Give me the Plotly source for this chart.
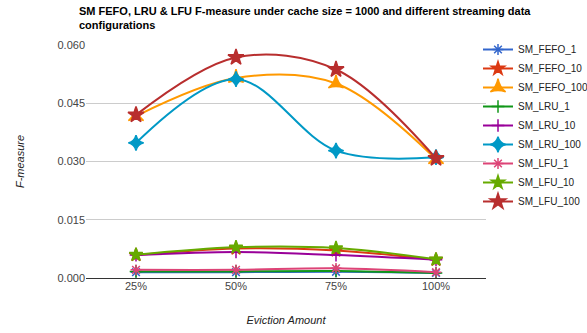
import plotly.graph_objects as go

categories = ["25%", "50%", "75%", "100%"]
series_names = ["SM_FEFO_1", "SM_FEFO_10", "SM_FEFO_100", "SM_LRU_1", "SM_LRU_10",
                "SM_LRU_100", "SM_LFU_1", "SM_LFU_10", "SM_LFU_100"]
SM_FEFO_1 = [0.0015, 0.0015, 0.0016, 0.0013]
SM_FEFO_10 = [0.0059, 0.0076, 0.0071, 0.0047]
SM_FEFO_100 = [0.0417, 0.0515, 0.0501, 0.0306]
SM_LRU_1 = [0.0017, 0.0017, 0.0018, 0.0013]
SM_LRU_10 = [0.0059, 0.0067, 0.0059, 0.0047]
SM_LRU_100 = [0.0348, 0.0512, 0.0328, 0.0311]
SM_LFU_1 = [0.0021, 0.0021, 0.0025, 0.0015]
SM_LFU_10 = [0.0060, 0.0079, 0.0077, 0.0048]
SM_LFU_100 = [0.0420, 0.0568, 0.0537, 0.0308]
values = [SM_FEFO_1, SM_FEFO_10, SM_FEFO_100, SM_LRU_1, SM_LRU_10,
          SM_LRU_100, SM_LFU_1, SM_LFU_10, SM_LFU_100]
y_ticks = [0.0, 0.015, 0.030, 0.045, 0.060]

colors = ["#3366cc", "#dc3912", "#ff9900", "#109618", "#990099",
          "#0099c6", "#dd4477", "#66aa00", "#b82e2e"]
symbols = ["asterisk-open", "star", "star-triangle-up", "cross-thin-open", "cross-thin-open",
           "star-diamond", "asterisk-open", "star", "star"]
sizes = [9, 10, 11, 9, 9, 11, 9, 10, 12]

fig = go.Figure()
for name, vals, c, s, sz in zip(series_names, values, colors, symbols, sizes):
    fig.add_trace(go.Scatter(
        x=categories, y=vals, name=name, mode="lines+markers",
        line=dict(color=c, width=2, shape="spline", smoothing=1),
        marker=dict(symbol=s, size=sz, color=c, line=dict(color=c, width=1.5)),
    ))

fig.update_layout(
    width=587, height=333,
    margin=dict(l=86, r=101, t=45, b=55, autoexpand=False),
    plot_bgcolor="white", paper_bgcolor="white",
    font=dict(family="Liberation Sans, Arial, sans-serif", size=11, color="#444"),
    xaxis=dict(
        type="category", range=[-0.5, 3.5], showgrid=False, zeroline=False,
        showline=False, ticks="", tickfont=dict(size=11, color="#444"), automargin=False,
        title=dict(text="<i>Eviction Amount</i>", font=dict(size=11, color="#222"), standoff=25),
    ),
    yaxis=dict(
        range=[0, 0.06], tickvals=y_ticks, tickformat=".3f",
        showgrid=True, gridcolor="#cccccc", gridwidth=1,
        zeroline=True, zerolinecolor="#333333", zerolinewidth=1, automargin=False,
        ticks="", tickfont=dict(size=11, color="#444"),
        title=dict(text="<i>F-measure</i>", font=dict(size=11, color="#222"), standoff=30),
    ),
    legend=dict(
        x=(478 - 86) / 400, y=(278 - 35) / 233, xref="paper", yref="paper",
        xanchor="left", yanchor="top", maxheight=300,
        font=dict(size=10, color="#222"), tracegroupgap=0,
        itemwidth=30, bgcolor="rgba(0,0,0,0)", borderwidth=0,
    ),
    annotations=[dict(
        text="<b>SM FEFO, LRU & LFU F-measure under cache size = 1000 and different streaming data<br>configurations</b>",
        xref="paper", yref="paper", x=(77 - 86) / 400, y=(278 - 3) / 233,
        xanchor="left", yanchor="top", align="left", showarrow=False,
        font=dict(size=11, color="#000"),
    )],
)

fig.write_html("out.html", config={"displayModeBar": False},
               post_script="document.body.style.margin='0';")
